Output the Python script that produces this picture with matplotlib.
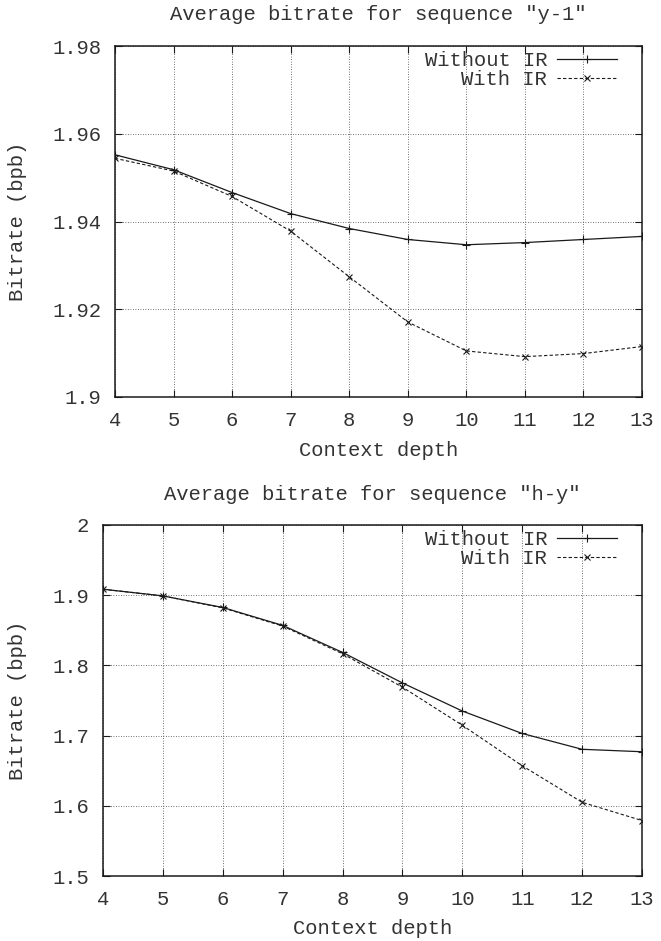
import matplotlib
matplotlib.use("Agg")
import matplotlib.pyplot as plt

plt.rcParams['font.family'] = ['Liberation Mono', 'DejaVu Sans Mono']
plt.rcParams['font.size'] = 14.8

# Profundidad de contexto
depth = [4, 5, 6, 7, 8, 9, 10, 11, 12, 13]

# Secuencia "y-1"
y1_without = [1.9552, 1.9518, 1.9466, 1.9418, 1.9384, 1.9359, 1.9347, 1.9352, 1.9359, 1.9366]
y1_with = [1.9544, 1.9515, 1.9457, 1.9378, 1.9274, 1.9171, 1.9105, 1.9092, 1.9099, 1.9115]
y1_yticks = [1.9, 1.92, 1.94, 1.96, 1.98]
y1_ylabels = ['1.9', '1.92', '1.94', '1.96', '1.98']

# Secuencia "h-y"
hy_without = [1.9085, 1.899, 1.8825, 1.857, 1.8185, 1.775, 1.735, 1.703, 1.6805, 1.677]
hy_with = [1.9085, 1.899, 1.882, 1.856, 1.8166, 1.769, 1.7147, 1.657, 1.605, 1.579]
hy_yticks = [1.5, 1.6, 1.7, 1.8, 1.9, 2.0]
hy_ylabels = ['1.5', '1.6', '1.7', '1.8', '1.9', '2']

titles = ['Average bitrate for sequence "y-1"', 'Average bitrate for sequence "h-y"']
labels = ['Without IR', 'With IR']

W, H = 661, 941
fig = plt.figure(figsize=(W / 100, H / 100), dpi=100)

# posiciones en pixeles: izquierda, derecha, arriba, abajo
boxes = [(115, 642, 46, 397), (103, 642, 525, 876)]
ylab_x = [18, 18]

panels = [
    (y1_without, y1_with, y1_yticks, y1_ylabels, (1.9, 1.98)),
    (hy_without, hy_with, hy_yticks, hy_ylabels, (1.5, 2.0)),
]

ink = '#1a1a1a'
for i, (wo, wi, yt, yl, ylim) in enumerate(panels):
    l, r, t, b = boxes[i]
    aw, ah = r - l, b - t
    ax = fig.add_axes([l / W, (H - b) / H, aw / W, ah / H])

    ax.plot(depth, wo, color=ink, lw=0.9, marker='+', ms=6, mew=0.8, label=labels[0])
    ax.plot(depth, wi, color=ink, lw=0.8, ls=(0, (3, 2)), marker='x', ms=4.5, mew=0.8,
            label=labels[1])

    ax.set_xlim(4, 13)
    ax.set_ylim(*ylim)
    ax.set_xticks(depth)
    ax.set_yticks(yt)
    ax.set_yticklabels(yl)
    ax.tick_params(direction='in', top=True, right=True, length=5, width=0.8,
                   colors=ink, labelcolor='#333333')
    ax.tick_params(axis='x', pad=10)
    ax.tick_params(axis='y', pad=10)
    ax.grid(True, color='#444444', lw=0.6, ls=(0, (1, 2)))
    for s in ax.spines.values():
        s.set_linewidth(1.1)
        s.set_color(ink)

    ax.set_xlabel('Context depth', color='#333333')
    ax.xaxis.set_label_coords(0.5, -53 / ah)
    ax.xaxis.label.set_va('center')
    ax.set_ylabel('Bitrate (bpb)', color='#333333')
    ax.yaxis.set_label_coords((ylab_x[i] - l) / aw, 0.5)
    ax.yaxis.label.set_va('center')

    ax.text(0.5, 1 + 31 / ah, titles[i], transform=ax.transAxes, ha='center',
            va='center', color='#333333')

    leg = ax.legend(loc='upper right', bbox_to_anchor=(1 - 25 / aw, 1 - 5 / ah),
                    frameon=False, markerfirst=False, handlelength=2.9,
                    handletextpad=0.5, labelspacing=0.0, borderpad=0,
                    borderaxespad=0)
    for txt in leg.get_texts():
        txt.set_color('#333333')

fig.savefig('out.png', dpi=100)
